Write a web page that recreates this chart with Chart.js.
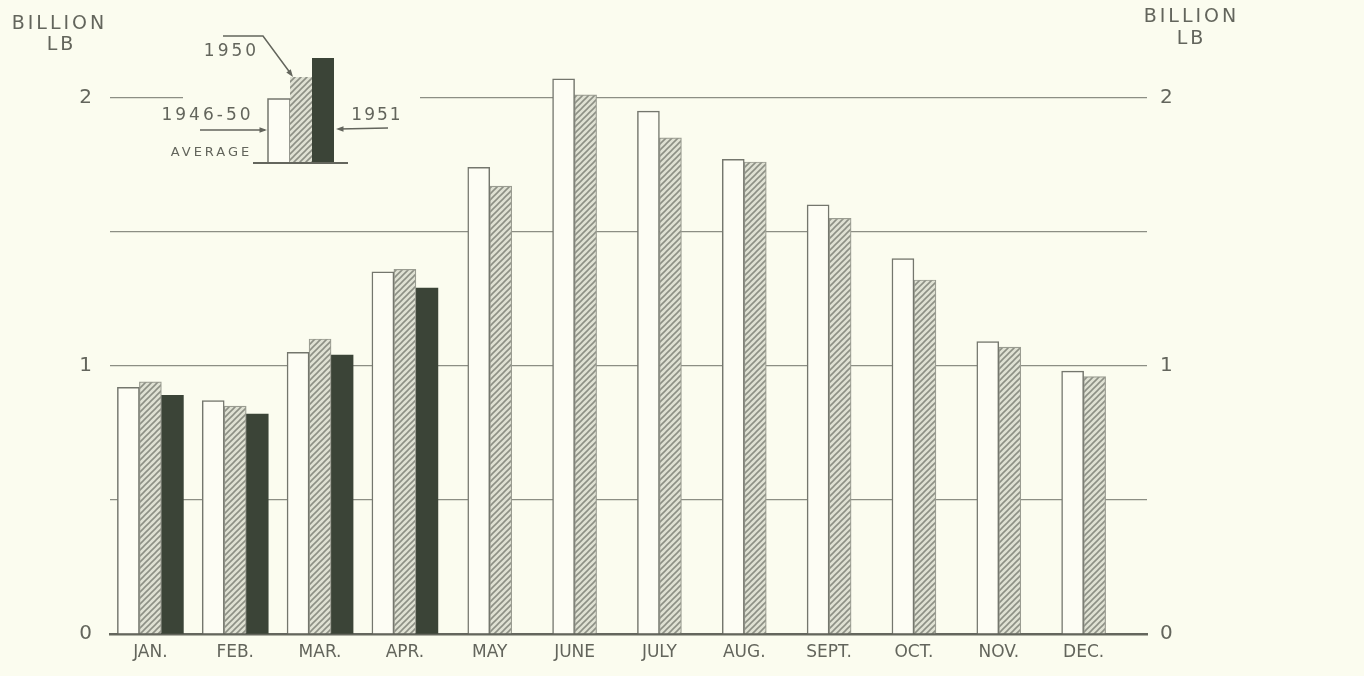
<!DOCTYPE html>
<html>
<head>
<meta charset="utf-8">
<title>Monthly production, billion lb</title>
<script src="https://cdn.jsdelivr.net/npm/chart.js@4.4.1/dist/chart.umd.min.js"></script>
<style>
  html, body { margin: 0; padding: 0; background: #fbfcef; }
  #wrap { width: 1364px; height: 676px; position: relative; }
</style>
</head>
<body>
<div id="wrap"><canvas id="chart" width="1364" height="676"></canvas></div>
<script>
/* ---------- datos ---------- */
const MONTHS = ["JAN.", "FEB.", "MAR.", "APR.", "MAY", "JUNE", "JULY", "AUG.", "SEPT.", "OCT.", "NOV.", "DEC."];
const AVG_1946_50 = [0.92, 0.87, 1.05, 1.35, 1.74, 2.07, 1.95, 1.77, 1.60, 1.40, 1.09, 0.98];
const Y1950 = [0.94, 0.85, 1.10, 1.36, 1.67, 2.01, 1.85, 1.76, 1.55, 1.32, 1.07, 0.96];
const Y1951 = [0.89, 0.82, 1.04, 1.29, null, null, null, null, null, null, null, null];
const Y_TICKS = [0, 0.5, 1, 1.5, 2];

const COLORS = {
  bg: "#fbfcef",
  ink: "#63655c",
  grid: "#8c8e84",
  axis: "#64665d",
  open: "#fdfdf4",
  openEdge: "#74766d",
  hatchBg: "#dfe1d3",
  hatchLine: "#8d9085",
  hatchEdge: "#9a9c91",
  dark: "#3b4437",
};
const FONT = "'DejaVu Sans', sans-serif";

/* ---------- trama rayada ---------- */
function hatchPattern() {
  const c = document.createElement("canvas");
  c.width = 6; c.height = 6;
  const g = c.getContext("2d");
  g.fillStyle = COLORS.hatchBg;
  g.fillRect(0, 0, 6, 6);
  g.strokeStyle = COLORS.hatchLine;
  g.lineWidth = 1.6;
  g.beginPath();
  g.moveTo(0, 6); g.lineTo(6, 0);
  g.moveTo(-1, 1); g.lineTo(1, -1);
  g.moveTo(5, 7); g.lineTo(7, 5);
  g.stroke();
  return g.createPattern(c, "repeat");
}
const HATCH = hatchPattern();

const pts = (arr) => arr.map((v, i) => ({ x: i, y: v }));

/* ---------- títulos, leyenda y tapa de la línea del 2 ---------- */
function arrowHead(ctx, x, y, ang) {
  ctx.beginPath();
  ctx.moveTo(x, y);
  ctx.lineTo(x - 8 * Math.cos(ang - 0.35), y - 8 * Math.sin(ang - 0.35));
  ctx.lineTo(x - 8 * Math.cos(ang + 0.35), y - 8 * Math.sin(ang + 0.35));
  ctx.closePath();
  ctx.fill();
}

function spaced(ctx, text, x, y, size, gap) {
  ctx.font = size + "px " + FONT;
  ctx.letterSpacing = gap + "px";
  // el espaciado añade un hueco al final: se compensa al centrar
  ctx.fillText(text, x + gap / 2, y);
  ctx.letterSpacing = "0px";
}

const decor = {
  id: "decor",
  afterDraw(chart) {
    const ctx = chart.ctx;
    const y2 = chart.scales.y.getPixelForValue(2);
    ctx.save();
    // hueco en la línea del 2 donde va la leyenda
    ctx.fillStyle = COLORS.bg;
    ctx.fillRect(183, y2 - 3, 237, 6);

    ctx.fillStyle = COLORS.ink;
    ctx.textAlign = "center";
    ctx.textBaseline = "middle";
    spaced(ctx, "BILLION", 58, 24, 19, 3);
    spaced(ctx, "LB", 60, 45, 19, 3);
    spaced(ctx, "BILLION", 1190, 17, 19, 3);
    spaced(ctx, "LB", 1190, 39, 19, 3);

    // leyenda: barras
    const base = 163;
    ctx.fillStyle = COLORS.open;
    ctx.strokeStyle = COLORS.openEdge;
    ctx.lineWidth = 1.5;
    ctx.fillRect(268, 99, 22, base - 99);
    ctx.beginPath();
    ctx.moveTo(268, base); ctx.lineTo(268, 99); ctx.lineTo(290, 99); ctx.lineTo(290, base);
    ctx.stroke();
    ctx.fillStyle = HATCH;
    ctx.fillRect(290, 77, 22, base - 77);
    ctx.fillStyle = COLORS.dark;
    ctx.fillRect(312, 58, 22, base - 58);
    ctx.strokeStyle = COLORS.axis;
    ctx.lineWidth = 2;
    ctx.beginPath();
    ctx.moveTo(253, base); ctx.lineTo(348, base);
    ctx.stroke();

    // leyenda: textos
    ctx.fillStyle = COLORS.ink;
    spaced(ctx, "1950", 230, 52, 17, 3);
    spaced(ctx, "1946-50", 206, 116, 17, 3);
    spaced(ctx, "1951", 376, 116, 17, 2);
    spaced(ctx, "AVERAGE", 210, 153, 13, 3);

    // flechas
    ctx.strokeStyle = COLORS.ink;
    ctx.fillStyle = COLORS.ink;
    ctx.lineWidth = 1.5;
    ctx.beginPath();
    ctx.moveTo(223, 36); ctx.lineTo(263, 36); ctx.lineTo(291, 74);
    ctx.stroke();
    arrowHead(ctx, 293, 77, Math.atan2(38, 28));
    ctx.beginPath();
    ctx.moveTo(200, 130); ctx.lineTo(265, 130);
    ctx.stroke();
    arrowHead(ctx, 267, 130, 0);
    ctx.beginPath();
    ctx.moveTo(388, 128); ctx.lineTo(339, 129);
    ctx.stroke();
    arrowHead(ctx, 336, 129, Math.PI);
    ctx.restore();
  },
};

/* ---------- gráfico ---------- */
const barCommon = { barThickness: 22, borderSkipped: "start", grouped: true };

new Chart(document.getElementById("chart"), {
  type: "bar",
  data: {
    datasets: [
      { label: "1946-50 average", data: pts(AVG_1946_50), backgroundColor: COLORS.open,
        borderColor: COLORS.openEdge, borderWidth: 1.5, ...barCommon },
      { label: "1950", data: pts(Y1950), backgroundColor: HATCH,
        borderColor: COLORS.hatchEdge, borderWidth: 1.2, ...barCommon },
      { label: "1951", data: pts(Y1951), backgroundColor: COLORS.dark,
        borderColor: COLORS.dark, borderWidth: 0, ...barCommon },
    ],
  },
  options: {
    responsive: false,
    animation: false,
    skipNull: true,
    layout: { padding: { top: 44, left: 0, right: 0, bottom: 0 } },
    plugins: { legend: { display: false }, tooltip: { enabled: false } },
    scales: {
      x: {
        type: "linear",
        min: -0.476,
        max: 11.747,
        offset: false,
        afterBuildTicks: (s) => { s.ticks = MONTHS.map((m, i) => ({ value: i })); },
        afterFit: (s) => { s.height = 42; },
        ticks: {
          callback: (v) => MONTHS[v] || "",
          color: COLORS.ink,
          font: { family: FONT, size: 17 },
          padding: 8,
          maxRotation: 0,
          autoSkip: false,
        },
        grid: { display: false, drawTicks: false },
        border: { display: true, color: COLORS.axis, width: 2.5 },
      },
      y: {
        position: "left",
        min: 0,
        max: 2.2,
        afterBuildTicks: (s) => { s.ticks = Y_TICKS.map((v) => ({ value: v })); },
        afterFit: (s) => { s.width = 110; },
        ticks: {
          callback: (v) => (Number.isInteger(v) ? String(v) : ""),
          color: COLORS.ink,
          font: { family: FONT, size: 20 },
          padding: 18,
        },
        grid: { color: COLORS.grid, lineWidth: 1.3, drawTicks: false },
        border: { display: false },
      },
      y2: {
        position: "right",
        min: 0,
        max: 2.2,
        afterBuildTicks: (s) => { s.ticks = Y_TICKS.map((v) => ({ value: v })); },
        afterFit: (s) => { s.width = 217; },
        ticks: {
          callback: (v) => (Number.isInteger(v) ? String(v) : ""),
          color: COLORS.ink,
          font: { family: FONT, size: 20 },
          padding: 13,
        },
        grid: { display: false, drawTicks: false },
        border: { display: false },
      },
    },
  },
  plugins: [decor],
});
</script>
</body>
</html>
